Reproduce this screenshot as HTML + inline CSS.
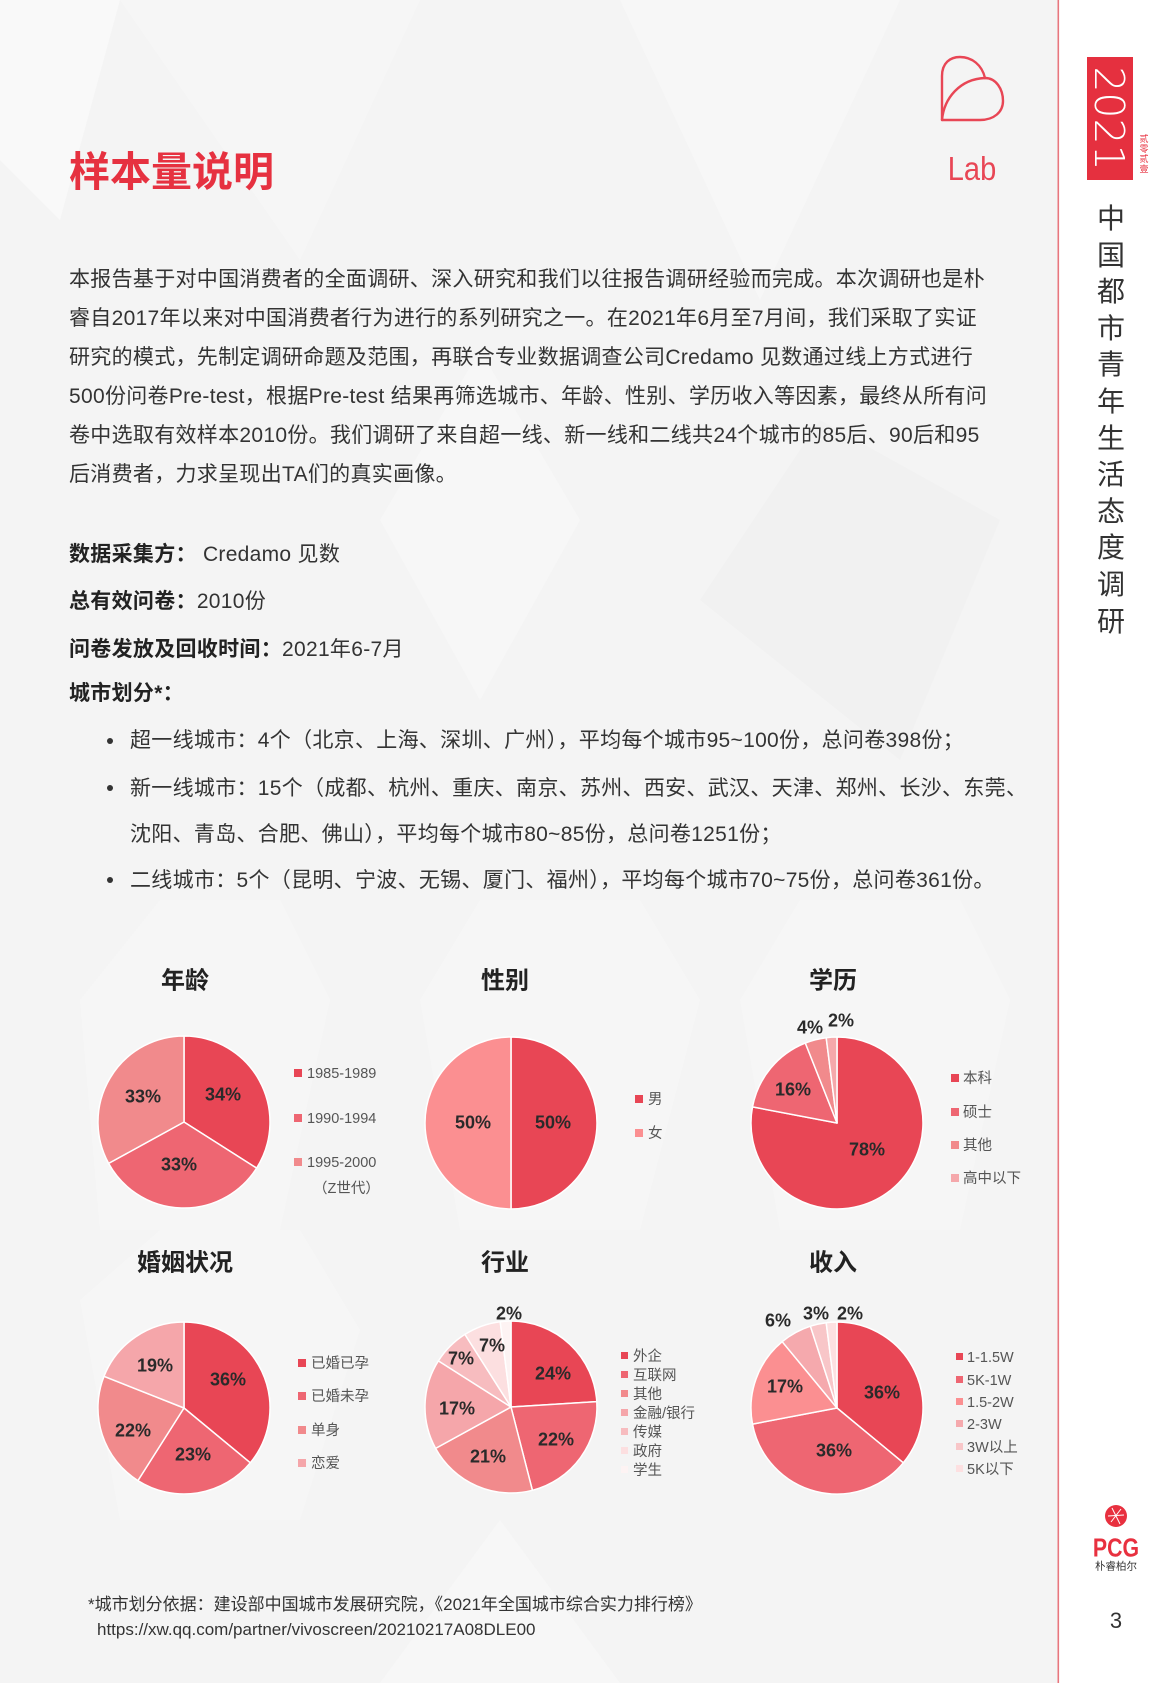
<!DOCTYPE html>
<html>
<head>
<meta charset="utf-8">
<style>
html,body{margin:0;padding:0;}
body{width:1166px;height:1683px;position:relative;overflow:hidden;background:#f4f4f4;font-family:"Liberation Sans","Noto Sans CJK SC",sans-serif;color:#333;}
.t{position:absolute;white-space:nowrap;line-height:1;}
.body{font-size:21px;letter-spacing:0.3px;color:#333;}
.body b{color:#222;}
.dot{position:absolute;width:6px;height:6px;border-radius:50%;background:#333;}
svg{position:absolute;left:0;top:0;}
.vt{position:absolute;left:1096px;top:201px;width:30px;font-size:28px;line-height:36.6px;text-align:center;color:#333;word-break:break-all;}
.sm{position:absolute;left:1139px;top:134px;width:10px;font-size:9px;line-height:10px;text-align:center;color:#e8303f;word-break:break-all;}
</style>
</head>
<body>
<svg width="1166" height="1683" viewBox="0 0 1166 1683" xmlns="http://www.w3.org/2000/svg">
  <!-- background -->
  <rect x="0" y="0" width="1059" height="1683" fill="#f4f4f4"/>
  <polygon points="0,0 120,0 60,220 0,160" fill="#f9f9f9"/>
  <polygon points="380,520 480,350 580,520 480,700" fill="#f7f7f7"/>
  <polygon points="120,0 420,0 300,260" fill="#f6f6f6"/>
  <polygon points="620,0 900,0 760,300" fill="#f7f7f7"/>
  <polygon points="700,600 820,420 1000,520 900,760" fill="#f1f1f1"/>
  <polygon points="80,1000 160,900 280,900 330,1000 280,1230 100,1230" fill="#f6f6f6"/>
  <polygon points="420,1000 480,900 640,900 700,1000 640,1230 460,1230" fill="#f6f6f6"/>
  <polygon points="740,1000 800,900 960,900 1010,1000 960,1230 780,1230" fill="#f6f6f6"/>
  <polygon points="80,1300 160,1230 300,1230 360,1330 300,1520 120,1520" fill="#f6f6f6"/>
  <polygon points="500,1520 620,1683 380,1683" fill="#f7f7f7"/>
  <rect x="1059" y="0" width="107" height="1683" fill="#ffffff"/>
  <rect x="1057.5" y="0" width="1.6" height="1683" fill="#e8767e"/>

  <!-- Lab logo -->
  <g fill="none" stroke="#e84655" stroke-width="2.4" stroke-linejoin="round" stroke-linecap="round">
    <path d="M942,120 L942,76 C942,63 950,57 960,57 C972,57 982,65 985,78"/>
    <path d="M942,120 C944,98 960,79 985,78 C996,78 1003,89 1003,101 C1003,112 994,120 980,120 L942,120"/>
  </g>
  <text x="972" y="168" text-anchor="middle" dy="0.36em" font-family="Liberation Sans" font-size="33" fill="#e84655" transform="translate(972,0) scale(0.88,1) translate(-972,0)">Lab</text>

  <!-- 2021 box -->
  <rect x="1087" y="57" width="46" height="123" fill="#e5303f"/>
  <text transform="translate(1110,118.5) rotate(90)" text-anchor="middle" dy="0.36em" font-family="DejaVu Sans" font-weight="200" font-size="41" fill="#ffffff">2021</text>

  <!-- Chart titles -->
  <g font-family="Liberation Sans, Noto Sans CJK SC, sans-serif" font-size="24" font-weight="bold" fill="#222" text-anchor="middle">
    <text x="185" y="980" dy="0.35em">年龄</text>
    <text x="505" y="980" dy="0.35em">性别</text>
    <text x="833" y="980" dy="0.35em">学历</text>
    <text x="185" y="1262" dy="0.35em">婚姻状况</text>
    <text x="505" y="1262" dy="0.35em">行业</text>
    <text x="833" y="1262" dy="0.35em">收入</text>
  </g>

  <!-- Pies -->
  <g stroke="#ffffff" stroke-width="1.5" stroke-linejoin="round">
    <path d="M184,1122 L184,1036 A86,86 0 0 1 256.6,1168.1 Z" fill="#e84655"/>
    <path d="M184,1122 L256.6,1168.1 A86,86 0 0 1 108.6,1163.4 Z" fill="#ee6672"/>
    <path d="M184,1122 L108.6,1163.4 A86,86 0 0 1 184,1036 Z" fill="#f18a8c"/>

    <path d="M511,1123 L511,1037 A86,86 0 0 1 511,1209 Z" fill="#e84655"/>
    <path d="M511,1123 L511,1209 A86,86 0 0 1 511,1037 Z" fill="#fb8f91"/>

    <path d="M837,1123 L837,1037 A86,86 0 1 1 752.5,1106.9 Z" fill="#e84655"/>
    <path d="M837,1123 L752.5,1106.9 A86,86 0 0 1 805.3,1043 Z" fill="#ee6672"/>
    <path d="M837,1123 L805.3,1043 A86,86 0 0 1 826.2,1037.7 Z" fill="#f18a8c"/>
    <path d="M837,1123 L826.2,1037.7 A86,86 0 0 1 837,1037 Z" fill="#f5a8ab"/>

    <path d="M184,1408 L184,1322 A86,86 0 0 1 250.3,1462.8 Z" fill="#e84655"/>
    <path d="M184,1408 L250.3,1462.8 A86,86 0 0 1 137.9,1480.6 Z" fill="#ee6672"/>
    <path d="M184,1408 L137.9,1480.6 A86,86 0 0 1 104,1376.3 Z" fill="#f18a8c"/>
    <path d="M184,1408 L104,1376.3 A86,86 0 0 1 184,1322 Z" fill="#f5a6aa"/>

    <path d="M511,1407 L511,1321 A86,86 0 0 1 596.8,1401.6 Z" fill="#e84655"/>
    <path d="M511,1407 L596.8,1401.6 A86,86 0 0 1 532.4,1490.3 Z" fill="#ee6672"/>
    <path d="M511,1407 L532.4,1490.3 A86,86 0 0 1 435.6,1448.4 Z" fill="#f18a8c"/>
    <path d="M511,1407 L435.6,1448.4 A86,86 0 0 1 438.4,1360.9 Z" fill="#f5a6aa"/>
    <path d="M511,1407 L438.4,1360.9 A86,86 0 0 1 464.9,1334.4 Z" fill="#f7bcbf"/>
    <path d="M511,1407 L464.9,1334.4 A86,86 0 0 1 500.2,1321.7 Z" fill="#fcdfe0"/>
    <path d="M511,1407 L500.2,1321.7 A86,86 0 0 1 511,1321 Z" fill="#fdf3f3"/>

    <path d="M837,1408 L837,1322 A86,86 0 0 1 903.3,1462.8 Z" fill="#e84655"/>
    <path d="M837,1408 L903.3,1462.8 A86,86 0 0 1 752.5,1424.1 Z" fill="#ee6672"/>
    <path d="M837,1408 L752.5,1424.1 A86,86 0 0 1 782.2,1341.7 Z" fill="#fb8f91"/>
    <path d="M837,1408 L782.2,1341.7 A86,86 0 0 1 810.4,1326.2 Z" fill="#f5a9ad"/>
    <path d="M837,1408 L810.4,1326.2 A86,86 0 0 1 826.2,1322.7 Z" fill="#f8c6c8"/>
    <path d="M837,1408 L826.2,1322.7 A86,86 0 0 1 837,1322 Z" fill="#fde0e1"/>
  </g>

  <!-- Pie labels -->
  <g font-family="Liberation Sans, sans-serif" font-size="18" font-weight="bold" fill="#2a2a2a" text-anchor="middle">
    <text x="143" y="1096" dy="0.36em">33%</text>
    <text x="223" y="1094" dy="0.36em">34%</text>
    <text x="179" y="1164" dy="0.36em">33%</text>

    <text x="473" y="1122" dy="0.36em">50%</text>
    <text x="553" y="1122" dy="0.36em">50%</text>

    <text x="867" y="1149" dy="0.36em">78%</text>
    <text x="793" y="1089" dy="0.36em">16%</text>
    <text x="810" y="1027" dy="0.36em">4%</text>
    <text x="841" y="1020" dy="0.36em">2%</text>

    <text x="155" y="1365" dy="0.36em">19%</text>
    <text x="228" y="1379" dy="0.36em">36%</text>
    <text x="133" y="1430" dy="0.36em">22%</text>
    <text x="193" y="1454" dy="0.36em">23%</text>

    <text x="509" y="1313" dy="0.36em">2%</text>
    <text x="492" y="1345" dy="0.36em">7%</text>
    <text x="461" y="1358" dy="0.36em">7%</text>
    <text x="553" y="1373" dy="0.36em">24%</text>
    <text x="457" y="1408" dy="0.36em">17%</text>
    <text x="556" y="1439" dy="0.36em">22%</text>
    <text x="488" y="1456" dy="0.36em">21%</text>

    <text x="778" y="1320" dy="0.36em">6%</text>
    <text x="816" y="1313" dy="0.36em">3%</text>
    <text x="850" y="1313" dy="0.36em">2%</text>
    <text x="882" y="1392" dy="0.36em">36%</text>
    <text x="785" y="1386" dy="0.36em">17%</text>
    <text x="834" y="1450" dy="0.36em">36%</text>
  </g>

  <!-- Legends -->
  <g font-family="Liberation Sans, Noto Sans CJK SC, sans-serif" font-size="14.5" fill="#555">
    <rect x="294" y="1069" width="8" height="8" fill="#e84655"/><text x="307" y="1073" dy="0.36em">1985-1989</text>
    <rect x="294" y="1114" width="8" height="8" fill="#ee6672"/><text x="307" y="1118" dy="0.36em">1990-1994</text>
    <rect x="294" y="1158" width="8" height="8" fill="#f18a8c"/><text x="307" y="1162" dy="0.36em">1995-2000</text>
    <text x="313" y="1188" dy="0.36em">（Z世代）</text>

    <rect x="635" y="1095" width="8" height="8" fill="#e84655"/><text x="648" y="1099" dy="0.36em">男</text>
    <rect x="635" y="1129" width="8" height="8" fill="#fb8f91"/><text x="648" y="1133" dy="0.36em">女</text>

    <rect x="951" y="1074" width="8" height="8" fill="#e84655"/><text x="963" y="1078" dy="0.36em">本科</text>
    <rect x="951" y="1108" width="8" height="8" fill="#ee6672"/><text x="963" y="1112" dy="0.36em">硕士</text>
    <rect x="951" y="1141" width="8" height="8" fill="#f18a8c"/><text x="963" y="1145" dy="0.36em">其他</text>
    <rect x="951" y="1174" width="8" height="8" fill="#f5a8ab"/><text x="963" y="1178" dy="0.36em">高中以下</text>

    <rect x="298" y="1359" width="8" height="8" fill="#e84655"/><text x="311" y="1363" dy="0.36em">已婚已孕</text>
    <rect x="298" y="1392" width="8" height="8" fill="#ee6672"/><text x="311" y="1396" dy="0.36em">已婚未孕</text>
    <rect x="298" y="1426" width="8" height="8" fill="#f18a8c"/><text x="311" y="1430" dy="0.36em">单身</text>
    <rect x="298" y="1459" width="8" height="8" fill="#f5a6aa"/><text x="311" y="1463" dy="0.36em">恋爱</text>

    <rect x="621" y="1352" width="7" height="7" fill="#e84655"/><text x="633" y="1356" dy="0.36em">外企</text>
    <rect x="621" y="1371" width="7" height="7" fill="#ee6672"/><text x="633" y="1375" dy="0.36em">互联网</text>
    <rect x="621" y="1390" width="7" height="7" fill="#f18a8c"/><text x="633" y="1394" dy="0.36em">其他</text>
    <rect x="621" y="1409" width="7" height="7" fill="#f5a6aa"/><text x="633" y="1413" dy="0.36em">金融/银行</text>
    <rect x="621" y="1428" width="7" height="7" fill="#f7bcbf"/><text x="633" y="1432" dy="0.36em">传媒</text>
    <rect x="621" y="1447" width="7" height="7" fill="#fcdfe0"/><text x="633" y="1451" dy="0.36em">政府</text>
    <rect x="621" y="1466" width="7" height="7" fill="#fdf3f3"/><text x="633" y="1470" dy="0.36em">学生</text>

    <rect x="956" y="1353" width="7" height="7" fill="#e84655"/><text x="967" y="1357" dy="0.36em">1-1.5W</text>
    <rect x="956" y="1376" width="7" height="7" fill="#ee6672"/><text x="967" y="1380" dy="0.36em">5K-1W</text>
    <rect x="956" y="1398" width="7" height="7" fill="#fb8f91"/><text x="967" y="1402" dy="0.36em">1.5-2W</text>
    <rect x="956" y="1420" width="7" height="7" fill="#f5a9ad"/><text x="967" y="1424" dy="0.36em">2-3W</text>
    <rect x="956" y="1443" width="7" height="7" fill="#f8c6c8"/><text x="967" y="1447" dy="0.36em">3W以上</text>
    <rect x="956" y="1465" width="7" height="7" fill="#fde0e1"/><text x="967" y="1469" dy="0.36em">5K以下</text>
  </g>

  <!-- PCG logo -->
  <circle cx="1116" cy="1516" r="11" fill="#e8303f"/>
  <g stroke="#ffffff" stroke-width="1" fill="none">
    <line x1="1112" y1="1508" x2="1120" y2="1524"/>
    <line x1="1121" y1="1509" x2="1111" y2="1522"/>
    <line x1="1108" y1="1516" x2="1124" y2="1515"/>
  </g>
  <text x="1116" y="1547" text-anchor="middle" dy="0.36em" font-family="Liberation Sans" font-weight="bold" font-size="26" fill="#e8303f" transform="translate(1116,0) scale(0.82,1) translate(-1116,0)">PCG</text>
  <text x="1116" y="1566" text-anchor="middle" dy="0.35em" font-family="Liberation Sans, Noto Sans CJK SC, sans-serif" font-size="10.5" fill="#333">朴睿柏尔</text>
  <text x="1116" y="1620" text-anchor="middle" dy="0.36em" font-family="Liberation Sans" font-size="22" fill="#333">3</text>
</svg>

<div class="sm">贰零贰壹</div>
<div class="vt">中国都市青年生活态度调研</div>

<div class="t" style="left:69px;top:152px;font-size:41px;font-weight:bold;color:#e63140;">样本量说明</div>

<div class="t body" style="left:69px;top:269px;">本报告基于对中国消费者的全面调研、深入研究和我们以往报告调研经验而完成。本次调研也是朴</div>
<div class="t body" style="left:69px;top:308px;">睿自2017年以来对中国消费者行为进行的系列研究之一。在2021年6月至7月间，我们采取了实证</div>
<div class="t body" style="left:69px;top:347px;">研究的模式，先制定调研命题及范围，再联合专业数据调查公司Credamo 见数通过线上方式进行</div>
<div class="t body" style="left:69px;top:386px;">500份问卷Pre-test，根据Pre-test 结果再筛选城市、年龄、性别、学历收入等因素，最终从所有问</div>
<div class="t body" style="left:69px;top:425px;">卷中选取有效样本2010份。我们调研了来自超一线、新一线和二线共24个城市的85后、90后和95</div>
<div class="t body" style="left:69px;top:464px;">后消费者，力求呈现出TA们的真实画像。</div>

<div class="t body" style="left:69px;top:544px;"><b>数据采集方：</b> Credamo 见数</div>
<div class="t body" style="left:69px;top:591px;"><b>总有效问卷：</b>2010份</div>
<div class="t body" style="left:69px;top:639px;"><b>问卷发放及回收时间：</b>2021年6-7月</div>
<div class="t body" style="left:69px;top:683px;"><b>城市划分*：</b></div>

<div class="dot" style="left:107px;top:738px;"></div>
<div class="t body" style="left:130px;top:730px;">超一线城市：4个（北京、上海、深圳、广州），平均每个城市95~100份，总问卷398份；</div>
<div class="dot" style="left:107px;top:785px;"></div>
<div class="t body" style="left:130px;top:778px;">新一线城市：15个（成都、杭州、重庆、南京、苏州、西安、武汉、天津、郑州、长沙、东莞、</div>
<div class="t body" style="left:130px;top:824px;">沈阳、青岛、合肥、佛山），平均每个城市80~85份，总问卷1251份；</div>
<div class="dot" style="left:107px;top:877px;"></div>
<div class="t body" style="left:130px;top:870px;">二线城市：5个（昆明、宁波、无锡、厦门、福州），平均每个城市70~75份，总问卷361份。</div>

<div class="t" style="left:88px;top:1596px;font-size:17px;color:#333;">*城市划分依据：建设部中国城市发展研究院，《2021年全国城市综合实力排行榜》</div>
<div class="t" style="left:97px;top:1621px;font-size:17px;color:#333;">https://xw.qq.com/partner/vivoscreen/20210217A08DLE00</div>
</body>
</html>
